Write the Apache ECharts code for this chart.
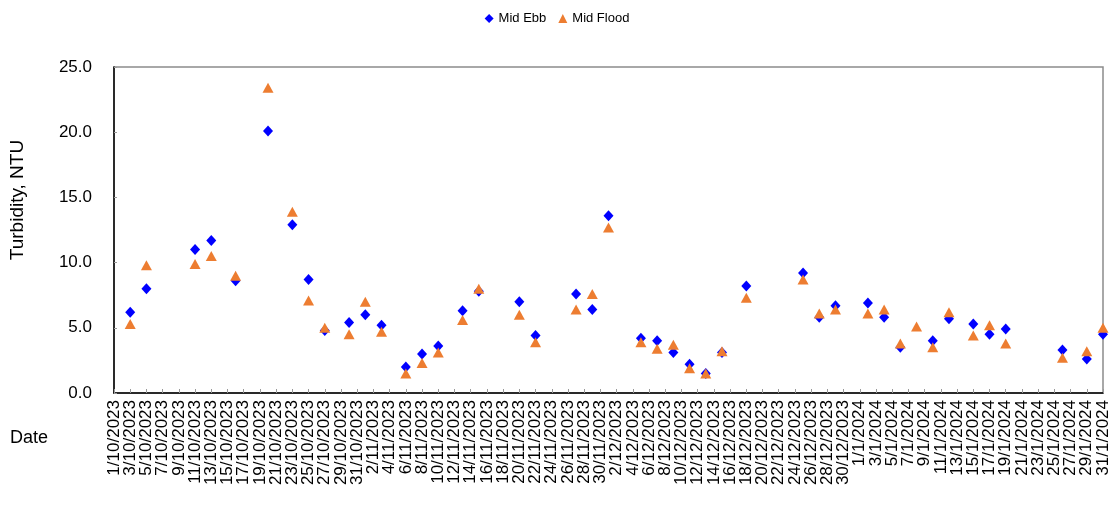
<!DOCTYPE html>
<html>
<head>
<meta charset="utf-8">
<script src="https://cdn.jsdelivr.net/npm/echarts@6/dist/echarts.min.js"></script>
<style>
html,body{margin:0;padding:0;background:#fff;}
#main{width:1114px;height:505px;}
</style>
</head>
<body>
<div id="main"></div>
<script>
// sampling days and readings (NTU)
var sampleDays = ['3/10/2023','5/10/2023','11/10/2023','13/10/2023','16/10/2023','20/10/2023','23/10/2023','25/10/2023','27/10/2023','30/10/2023',
	'1/11/2023','3/11/2023','6/11/2023','8/11/2023','10/11/2023','13/11/2023','15/11/2023','20/11/2023','22/11/2023','27/11/2023','29/11/2023',
	'1/12/2023','5/12/2023','7/12/2023','9/12/2023','11/12/2023','13/12/2023','15/12/2023','18/12/2023','25/12/2023','27/12/2023','29/12/2023',
	'2/1/2024','4/1/2024','6/1/2024','8/1/2024','10/1/2024','12/1/2024','15/1/2024','17/1/2024','19/1/2024','26/1/2024','29/1/2024','31/1/2024'];
var midEbb = [6.2,8.0,11.0,11.7,8.6,20.1,12.9,8.7,4.8,5.4,
	6.0,5.2,2.0,3.0,3.6,6.3,7.8,7.0,4.4,7.6,6.4,
	13.6,4.2,4.0,3.1,2.2,1.5,3.1,8.2,9.2,5.8,6.7,
	6.9,5.8,3.5,null,4.0,5.7,5.3,4.5,4.9,3.3,2.6,4.5];
var midFlood = [5.3,9.8,9.9,10.5,9.0,23.4,13.9,7.1,5.0,4.5,
	7.0,4.7,1.5,2.3,3.1,5.6,8.0,6.0,3.9,6.4,7.6,
	12.7,3.9,3.4,3.7,1.9,1.5,3.2,7.3,8.7,6.1,6.4,
	6.1,6.4,3.8,5.1,3.5,6.2,4.4,5.2,3.8,2.7,3.2,5.0];

// every calendar day from 1/10/2023 to 31/1/2024
var dates = [];
var d = new Date(2023, 9, 1);
var end = new Date(2024, 0, 31);
while (d <= end) {
	dates.push(d.getDate() + '/' + (d.getMonth() + 1) + '/' + d.getFullYear());
	d.setDate(d.getDate() + 1);
}

function toSeries(values){
	return dates.map(function(day){
		var i = sampleDays.indexOf(day);
		return i < 0 ? null : values[i];
	});
}

var font = 'Liberation Sans, Arial, sans-serif';
var option = {
	textStyle: { fontFamily: font, color: '#000' },
	title: {
		text: 'Date',
		left: 5,
		top: 424,
		textStyle: { fontSize: 18, fontWeight: 'normal', color: '#000', fontFamily: font }
	},
	legend: {
		top: 7,
		left: 'center',
		itemGap: 12,
		itemWidth: 9,
		itemHeight: 9,
		textStyle: { fontSize: 13, color: '#000', fontFamily: font },
		data: ['Mid Ebb', 'Mid Flood']
	},
	grid: {
		left: 113, right: 11, top: 67, bottom: 112,
		show: true, borderColor: '#8c8c8c', borderWidth: 1.5
	},
	xAxis: {
		type: 'category',
		data: dates,
		boundaryGap: false,
		axisLine: { lineStyle: { color: '#000', width: 1.5 } },
		axisTick: { inside: true, length: 4, interval: 1, lineStyle: { color: '#999' } },
		axisLabel: {
			rotate: 90, interval: 0, fontSize: 17, lineHeight: 12, color: '#000', margin: 7,
			formatter: function(v, i){ return i % 2 ? '' : v; }
		},
		splitLine: { show: false }
	},
	yAxis: {
		type: 'value',
		min: 0, max: 25, interval: 5,
		name: 'Turbidity, NTU',
		nameLocation: 'middle',
		nameGap: 87,
		nameTextStyle: { fontSize: 19, color: '#000', padding: [0, 0, 0, 60] },
		axisLine: { show: true, lineStyle: { color: '#000', width: 1.5 } },
		axisTick: { show: true, inside: true, length: 3, lineStyle: { color: '#999' } },
		axisLabel: { fontSize: 17, color: '#000', margin: 22, formatter: function(v){ return v.toFixed(1); } },
		splitLine: { show: false }
	},
	series: [
		{
			name: 'Mid Ebb',
			type: 'scatter',
			symbol: 'diamond',
			symbolSize: [10, 11],
			itemStyle: { color: '#0000ff', opacity: 1 },
			data: toSeries(midEbb)
		},
		{
			name: 'Mid Flood',
			type: 'scatter',
			symbol: 'triangle',
			symbolSize: [11, 10],
			itemStyle: { color: '#ed7d31', opacity: 1 },
			data: toSeries(midFlood)
		}
	]
};

var myChart = echarts.init(document.getElementById('main'));
myChart.setOption(option);
</script>
</body>
</html>
